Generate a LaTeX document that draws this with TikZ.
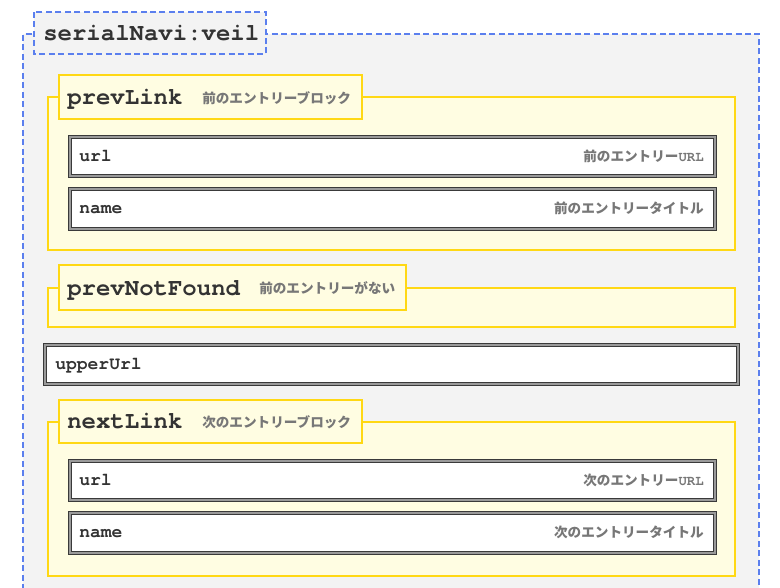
\documentclass[tikz,border=0pt]{standalone}
\usepackage{fontspec}
\setmonofont{TeX Gyre Cursor}
\newfontfamily\jpfont{Noto Sans CJK JP}
\definecolor{bluedash}{HTML}{5B7FEE}
\definecolor{outerfill}{HTML}{F3F3F3}
\definecolor{yelbord}{HTML}{FFD814}
\definecolor{yelfill}{HTML}{FFFDE2}
\definecolor{darktext}{HTML}{333333}
\definecolor{graytext}{HTML}{777777}
\definecolor{bandgray}{HTML}{9A9A9A}
\definecolor{edgedark}{HTML}{3A3A3A}
\newcommand\urlfont{\ttfamily\bfseries\fontsize{10.5}{12}\selectfont}
\newcommand\dblbox[4]{%
  \filldraw[fill=bandgray, draw=edgedark, line width=0.7pt] (#1,#2) rectangle (#3,#4);
  \filldraw[fill=white, draw=edgedark, line width=0.7pt] (#1+3,#2+3) rectangle (#3-3,#4-3);
}
\begin{document}
\begin{tikzpicture}[x=0.75pt, y=-0.75pt,
  bigname/.style={anchor=base west, inner sep=0, font=\ttfamily\bfseries\fontsize{18}{20}\selectfont, text=darktext},
  fieldname/.style={anchor=base west, inner sep=0, font=\ttfamily\bfseries\fontsize{13.5}{15}\selectfont, text=darktext},
  jplabel/.style={anchor=west, inner sep=0, font=\jpfont\bfseries\fontsize{10.2}{12}\selectfont, text=graytext},
  jpright/.style={anchor=east, inner sep=0, font=\jpfont\bfseries\fontsize{10.2}{12}\selectfont, text=graytext},
  yelbox/.style={fill=yelfill, draw=yelbord, line width=1.5pt},
  bluebox/.style={draw=bluedash, line width=1.5pt, dash pattern=on 4.5pt off 2.6pt}
]
\useasboundingbox (0,0) rectangle (780,587);
% outer region
\fill[outerfill] (23,34) rectangle (759,588);
\draw[bluebox] (23,590) -- (23,34) -- (759,34) -- (759,590);
% title tab
\filldraw[bluebox, fill=outerfill] (34,12) rectangle (266,54);
\node[bigname] (title) at (43,40) {serialNavi:veil};

% prevLink block
\draw[yelbox] (48,97) rectangle (735,250);
\draw[yelbox] (59,75) rectangle (362,119);
\node[bigname] (prevLink) at (67,104) {prevLink};
\node[jplabel] (prevLinkLbl) at (202,98) {前のエントリーブロック};
\dblbox{68}{135}{716}{177}
\node[fieldname] (prevUrl) at (79,161) {url};
\node[jpright] (prevUrlLbl) at (704,156) {前のエントリー{\urlfont URL}};
\dblbox{68}{187}{716}{230}
\node[fieldname] (prevName) at (79,213) {name};
\node[jpright] (prevNameLbl) at (704,208) {前のエントリータイトル};

% prevNotFound block
\draw[yelbox] (48,288) rectangle (735,327);
\draw[yelbox] (59,265) rectangle (406,310);
\node[bigname] (prevNF) at (67,295) {prevNotFound};
\node[jplabel] (prevNFLbl) at (259,288) {前のエントリーがない};

% upperUrl
\dblbox{43}{343}{739}{385}
\node[fieldname] (upperUrl) at (55,369) {upperUrl};

% nextLink block
\draw[yelbox] (48,422) rectangle (735,576);
\draw[yelbox] (59,400) rectangle (362,443);
\node[bigname] (nextLink) at (67,428) {nextLink};
\node[jplabel] (nextLinkLbl) at (202,422) {次のエントリーブロック};
\dblbox{68}{459}{716}{501}
\node[fieldname] (nextUrl) at (79,485) {url};
\node[jpright] (nextUrlLbl) at (704,480) {次のエントリー{\urlfont URL}};
\dblbox{68}{511}{716}{554}
\node[fieldname] (nextName) at (79,537) {name};
\node[jpright] (nextNameLbl) at (704,532) {次のエントリータイトル};
\end{tikzpicture}
\end{document}
